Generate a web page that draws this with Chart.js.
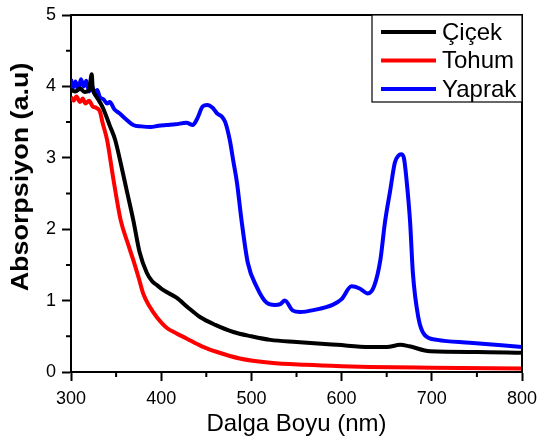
<!DOCTYPE html>
<html>
<head>
<meta charset="utf-8">
<script src="https://cdn.jsdelivr.net/npm/chart.js@4.4.0/dist/chart.umd.min.js"></script>
<style>
  body { margin: 0; background: #fff; }
  #wrap { width: 539px; height: 441px; }
</style>
</head>
<body>
<div id="wrap"><canvas id="mycanvas"></canvas></div>
<script>
// wavelength (nm) and absorbance
var cicekNm = [300, 305, 310, 315, 320, 323, 324, 326, 330, 335, 343, 349, 355, 362, 369, 376, 384, 390, 395, 402, 417, 430, 443, 460, 480, 500, 521, 550, 595, 631, 650, 665, 675, 698, 750, 800];
var cicekAbs = [3.95, 3.93, 3.97, 3.92, 3.95, 4.17, 3.98, 3.9, 3.82, 3.71, 3.45, 3.25, 2.93, 2.53, 2.13, 1.68, 1.39, 1.27, 1.22, 1.15, 1.04, 0.9, 0.77, 0.66, 0.56, 0.5, 0.45, 0.42, 0.38, 0.35, 0.35, 0.38, 0.36, 0.29, 0.28, 0.27];

var tohumNm = [300, 303, 306, 310, 313, 316, 320, 324, 328, 332, 335, 340, 347, 355, 363, 369, 375, 380, 387, 395, 406, 417, 428, 445, 462, 487, 521, 560, 600, 631, 700, 800];
var tohumAbs = [3.85, 3.8, 3.86, 3.78, 3.83, 3.76, 3.8, 3.72, 3.7, 3.65, 3.49, 3.25, 2.7, 2.13, 1.8, 1.57, 1.32, 1.1, 0.92, 0.77, 0.62, 0.54, 0.47, 0.36, 0.28, 0.19, 0.13, 0.1, 0.08, 0.07, 0.06, 0.05];

var yaprakNm = [300, 302, 305, 308, 311, 314, 317, 320, 323, 326, 329, 332, 336, 340, 343, 348, 354, 360, 369, 378, 388, 397, 406, 416, 428, 435, 440, 446, 451, 457, 462, 467, 471, 476, 480, 484, 489, 496, 506, 517, 526, 532, 537, 546, 554, 570, 590, 600, 611, 620, 629, 636, 643, 648, 654, 659, 663, 666, 669, 672, 676, 679, 685, 692, 706, 742, 800];
var yaprakAbs = [4.1, 3.98, 4.07, 3.95, 4.1, 4.0, 4.08, 3.93, 4.02, 3.9, 3.95, 3.85, 3.82, 3.76, 3.78, 3.68, 3.62, 3.55, 3.46, 3.44, 3.43, 3.45, 3.46, 3.47, 3.49, 3.46, 3.55, 3.72, 3.74, 3.7, 3.62, 3.58, 3.5, 3.25, 2.95, 2.65, 2.13, 1.53, 1.19, 0.97, 0.94, 0.95, 1.0, 0.86, 0.84, 0.87, 0.94, 1.02, 1.2, 1.17, 1.1, 1.2, 1.57, 2.09, 2.55, 2.93, 3.03, 3.05, 3.0, 2.69, 2.09, 1.39, 0.77, 0.52, 0.45, 0.41, 0.35];

var seriesNames = ['Çiçek', 'Tohum', 'Yaprak'];
var seriesColors = ['#000000', '#ff0000', '#0000ff'];

var xMinor = [350, 450, 550, 650, 750];
var yMinor = [0.5, 1.5, 2.5, 3.5, 4.5];

var yTitle = 'Absorpsiyon (a.u)';

function pts(xs, ys) {
	var out = [];
	for (var i in xs) out.push({x: xs[i], y: ys[i]});
	return out;
}

var allData = [pts(cicekNm, cicekAbs), pts(tohumNm, tohumAbs), pts(yaprakNm, yaprakAbs)];
var datasets = [];
for (var i in seriesNames) {
	datasets.push({
		label: seriesNames[i],
		data: allData[i],
		borderColor: seriesColors[i],
		borderWidth: 4,
		pointRadius: 0,
		fill: false,
		cubicInterpolationMode: 'monotone'
	});
}

var FONT = "'Liberation Sans', Arial, sans-serif";

var framePlugin = {
	id: 'frame',
	afterDraw: function(chart) {
		var c = chart.ctx, a = chart.chartArea;
		var xs = chart.scales.x, ys = chart.scales.y;
		c.save();
		c.strokeStyle = '#000';
		c.lineWidth = 2;
		c.beginPath();
		c.moveTo(a.left, a.top); c.lineTo(a.right, a.top); c.lineTo(a.right, a.bottom);
		c.stroke();
		// minor ticks
		c.beginPath();
		xMinor.forEach(function(v) {
			var px = xs.getPixelForValue(v);
			c.moveTo(px, a.bottom); c.lineTo(px, a.bottom + 5);
		});
		yMinor.forEach(function(v) {
			var py = ys.getPixelForValue(v);
			c.moveTo(a.left, py); c.lineTo(a.left - 5, py);
		});
		c.stroke();
		// y title (stretched a bit along its length like the original)
		c.save();
		c.translate(28, 177);
		c.rotate(-Math.PI / 2);
		c.scale(1.17, 1);
		c.font = 'bold 23px ' + FONT;
		c.fillStyle = '#000';
		c.textAlign = 'center';
		c.textBaseline = 'alphabetic';
		c.fillText(yTitle, 0, 0);
		c.restore();
		// legend box
		var bx = a.right - 150, by = a.top, bw = 150, bh = 87;
		c.fillStyle = '#fff';
		c.fillRect(bx, by, bw, bh);
		c.strokeStyle = '#000';
		c.lineWidth = 1.2;
		c.strokeRect(bx, by, bw, bh);
		c.font = '24px ' + FONT;
		c.textBaseline = 'middle';
		for (var i = 0; i < seriesNames.length; i++) {
			var ly = by + 17 + i * 28.5;
			c.strokeStyle = seriesColors[i];
			c.lineWidth = 4;
			c.beginPath();
			c.moveTo(bx + 9, ly); c.lineTo(bx + 64, ly);
			c.stroke();
			c.fillStyle = '#000';
			c.fillText(seriesNames[i], bx + 70, ly + 1);
		}
		c.restore();
	}
};

var ctx = document.getElementById('mycanvas');
var chart = new Chart(ctx, {
	type: 'line',
	data: { datasets: datasets },
	plugins: [framePlugin],
	options: {
		responsive: true,
		maintainAspectRatio: false,
		animation: false,
		layout: { padding: { top: 15, right: 17, left: 0, bottom: 0 } },
		plugins: { legend: { display: false }, tooltip: { enabled: false } },
		scales: {
			x: {
				type: 'linear',
				min: 300, max: 800,
				afterFit: function(s) { s.height = 69; s.paddingLeft = 0; s.paddingRight = 0; },
				border: { display: true, color: '#000', width: 2 },
				grid: { drawOnChartArea: false, drawTicks: true, tickLength: 9, tickWidth: 2, tickColor: '#000' },
				ticks: { stepSize: 100, color: '#000', font: { family: FONT, size: 18 }, padding: 7, maxRotation: 0 },
				title: { display: true, text: 'Dalga Boyu (nm)', color: '#000', font: { family: FONT, size: 24 }, padding: { top: 0, bottom: 2 } }
			},
			y: {
				min: 0, max: 5,
				afterFit: function(s) { s.width = 71; s.paddingTop = 0; s.paddingBottom = 0; },
				border: { display: true, color: '#000', width: 2 },
				grid: { drawOnChartArea: false, drawTicks: true, tickLength: 9, tickWidth: 2, tickColor: '#000' },
				ticks: { stepSize: 1, color: '#000', font: { family: FONT, size: 18 }, padding: 6 },
				title: { display: false }
			}
		}
	}
});
</script>
</body>
</html>
